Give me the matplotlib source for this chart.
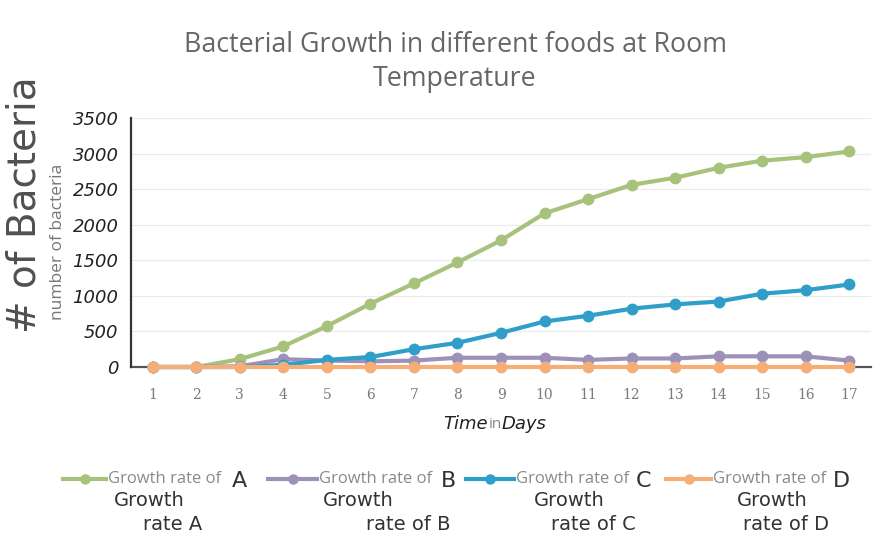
import matplotlib
matplotlib.use("Agg")
import matplotlib.pyplot as plt
from matplotlib.lines import Line2D

days = list(range(1, 18))
growth_a = [0, 0, 110, 290, 575, 890, 1175, 1470, 1780, 2160, 2360, 2560, 2660, 2800, 2900, 2950, 3030]
growth_b = [0, 0, 10, 110, 90, 80, 90, 130, 130, 130, 100, 120, 120, 150, 150, 150, 90]
growth_c = [0, 0, 0, 30, 100, 140, 250, 340, 480, 640, 720, 820, 880, 920, 1030, 1080, 1160]
growth_d = [0, 0, 0, 0, 0, 0, 0, 0, 0, 0, 0, 0, 0, 0, 0, 0, 0]
y_ticks = [0, 500, 1000, 1500, 2000, 2500, 3000, 3500]
series_letters = ["A", "B", "C", "D"]
legend_prefix = "Growth rate of"
hand_line1 = ["Growth", "Growth", "Growth", "Growth"]
hand_line2 = ["rate A", "rate of B", "rate of C", "rate of D"]
colors = ["#a6c27b", "#9d91ba", "#2f9ec8", "#f5ae78"]

W, H = 891, 545
fig = plt.figure(figsize=(W / 100, H / 100), dpi=100)
fig.patch.set_facecolor("white")

def fx(px):
    return px / W

def fy(py):
    return 1 - py / H

ax = fig.add_axes([fx(131), fy(367), fx(871) - fx(131), fy(118) - fy(367)])
ax.set_xlim(0.5, 17.5)
ax.set_ylim(0, 3500)
ax.set_yticks(y_ticks)
ax.set_xticks(days)
ax.grid(axis="y", color="#ebebeb", linewidth=0.9)
ax.set_axisbelow(True)
for s in ["top", "right"]:
    ax.spines[s].set_visible(False)
ax.spines["left"].set_color("#333333")
ax.spines["left"].set_linewidth(1.6)
ax.spines["bottom"].set_color("#555555")
ax.spines["bottom"].set_linewidth(1.6)
ax.spines["bottom"].set_zorder(2)
ax.tick_params(axis="both", length=0)
ax.tick_params(axis="x", pad=15, labelsize=10, labelcolor="#7a7a7a")
ax.tick_params(axis="y", pad=9, labelsize=13, labelcolor="#222222")
for lab in ax.get_xticklabels():
    lab.set_fontfamily("DejaVu Serif")
for lab in ax.get_yticklabels():
    lab.set_fontfamily("DejaVu Sans")
    lab.set_fontstyle("italic")

data = [growth_a, growth_b, growth_c, growth_d]
for vals, c, let in zip(data, colors, series_letters):
    ax.plot(days, vals, color=c, linewidth=3, marker="o", markersize=7.5,
            markeredgecolor=c, label=f"{legend_prefix} {let}", clip_on=False, zorder=3)

# title
fig.text(fx(455), fy(45), "Bacterial Growth in different foods at Room", ha="center", va="center",
         fontsize=19.3, color="#666666", family="Open Sans")
fig.text(fx(455), fy(79), "Temperature", ha="center", va="center",
         fontsize=19.3, color="#666666", family="Open Sans")

# y labels
fig.text(fx(58), fy(242), "number of bacteria", rotation=90, ha="center", va="center",
         fontsize=12.5, color="#777777", family="Open Sans")
fig.text(fx(25), fy(205), "# of Bacteria", rotation=90, ha="center", va="center",
         fontsize=28, color="#505050", family="DejaVu Sans")

# x label
fig.text(fx(488), fy(424), "Time", ha="right", va="center", fontsize=13, color="#222222",
         family="DejaVu Sans", style="italic")
fig.text(fx(495), fy(425), "in", ha="center", va="center", fontsize=11, color="#888888",
         family="Open Sans")
fig.text(fx(502), fy(424), "Days", ha="left", va="center", fontsize=13, color="#222222",
         family="DejaVu Sans", style="italic")

# legend (drawn manually to match layout)
handle_x = [(63, 106), (268, 317), (466, 514), (666, 711)]
letter_x = [232, 441, 636, 833]
leg_y = fy(479)
for (x0, x1), lx, c, let in zip(handle_x, letter_x, colors, series_letters):
    fig.add_artist(Line2D([fx(x0), fx(x1)], [leg_y, leg_y], color=c, linewidth=3))
    fig.add_artist(Line2D([fx((x0 + x1) / 2)], [leg_y], color=c, marker="o", markersize=6.5,
                          markeredgecolor=c))
    fig.text(fx(x1 + 2), leg_y, legend_prefix, ha="left", va="center", fontsize=12,
             color="#8a8a8a", family="Open Sans")
    fig.text(fx(lx), fy(481), let, ha="left", va="center", fontsize=16, color="#333333",
             family="DejaVu Sans")

line1_x = [114, 323, 534, 737]
line2_x = [143, 366, 551, 743]
for x1, x2, t1, t2 in zip(line1_x, line2_x, hand_line1, hand_line2):
    fig.text(fx(x1), fy(501), t1, ha="left", va="center", fontsize=14, color="#333333",
             family="DejaVu Sans")
    fig.text(fx(x2), fy(525), t2, ha="left", va="center", fontsize=14, color="#333333",
             family="DejaVu Sans")

fig.savefig("out.png", dpi=100, facecolor="white")
